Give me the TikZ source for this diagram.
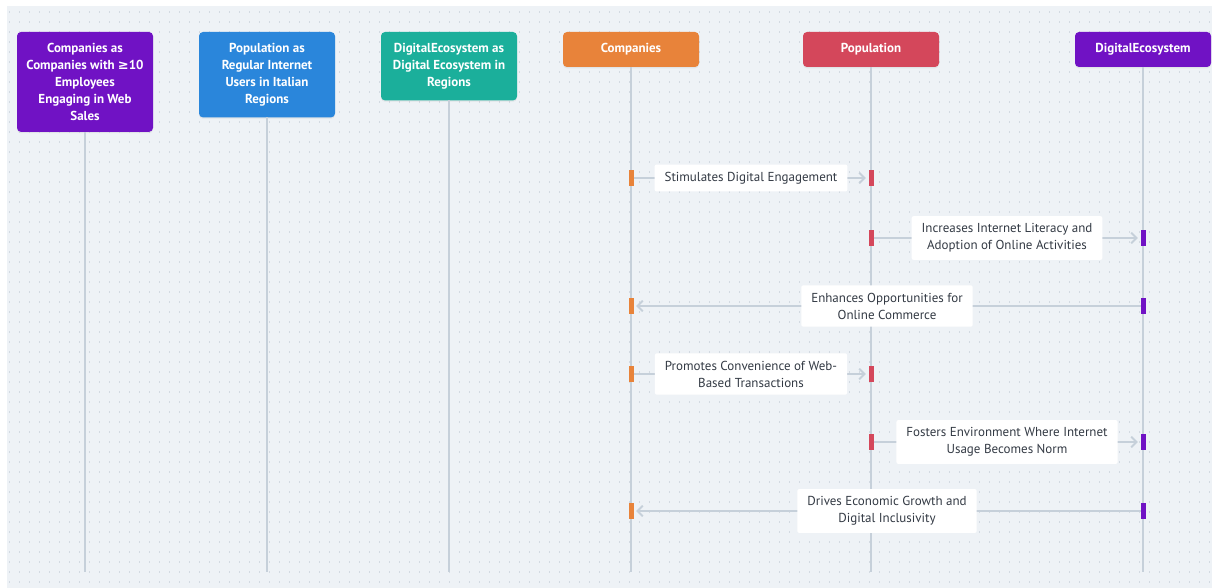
\documentclass[tikz,border=0pt]{standalone}
\usepackage{fontspec}
\setmainfont{PT Sans}
\newfontfamily\symfont{DejaVu Sans}
\usetikzlibrary{positioning,arrows.meta,shadows}

\definecolor{bgcol}{HTML}{EEF2F6}
\definecolor{dotcol}{HTML}{D3DAE2}
\definecolor{linecol}{HTML}{C6D0DA}
\definecolor{purp}{HTML}{7012C4}
\definecolor{blu}{HTML}{2A86DB}
\definecolor{teal}{HTML}{1BAF9B}
\definecolor{cmpcol}{HTML}{E8833A}
\definecolor{popcol}{HTML}{D4475B}
\definecolor{ecocol}{HTML}{7012C4}
\definecolor{txtcol}{HTML}{333A44}

\tikzset{
  head/.style={rounded corners=3pt, minimum width=102pt, minimum height=26.25pt,
    inner xsep=4pt, inner ysep=8.4pt, outer sep=0pt, align=center, text=white,
    font=\bfseries\fontsize{9.75}{12.75}\selectfont,
    drop shadow={opacity=0.12, shadow xshift=0pt, shadow yshift=-1pt}},
  life/.style={draw=linecol, line width=1.8pt},
  act/.style={fill=#1, minimum width=3.75pt, minimum height=12pt, inner sep=0pt, outer sep=0pt},
  msg/.style={draw=linecol, line width=1.6pt, shorten >=2pt,
    -{Straight Barb[length=4pt, width=8pt, line width=1.4pt]}},
  lbl/.style={fill=white, rounded corners=1.5pt, inner xsep=7.5pt, inner ysep=5.6pt,
    align=center, text=txtcol, font=\fontsize{9.75}{12.75}\selectfont}
}

\begin{document}
\begin{tikzpicture}[x=0.75pt, y=-0.75pt]
  \useasboundingbox (0,0) rectangle (1212,588);
  \fill[bgcol] (7,6) rectangle (1212,588);
  % dot grid
  \foreach \y in {12,22,...,582}
    \draw[dotcol, line width=1.1pt, dash pattern=on 1.1pt off 6.4pt] (9,\y) -- (1212,\y);

  % participants
  \node[head, fill=purp, anchor=north west] (cmpA) at (17,32)
    {Companies as\\Companies with {\symfont ≥}10\\Employees\\Engaging in Web\\Sales};
  \node[head, fill=blu, right=34.5pt of cmpA.north east, anchor=north west] (popA)
    {Population as\\Regular Internet\\Users in Italian\\Regions};
  \node[head, fill=teal, right=34.5pt of popA.north east, anchor=north west] (ecoA)
    {DigitalEcosystem as\\Digital Ecosystem in\\Regions};
  \node[head, fill=cmpcol, right=34.5pt of ecoA.north east, anchor=north west] (cmp) {Companies};
  \node[head, fill=popcol, right=78pt of cmp.north east, anchor=north west] (pop) {Population};
  \node[head, fill=ecocol, right=102pt of pop.north east, anchor=north west] (eco) {DigitalEcosystem};

  % lifelines
  \coordinate (bot) at (0,572);
  \foreach \p in {cmpA,popA,ecoA,cmp,pop,eco}
    \draw[life] (\p.south) -- (\p.south |- bot);

  % messages
  \foreach \n/\y/\a/\b/\ca/\cb/\txt in {
    1/178/cmp/pop/cmpcol/popcol/{Stimulates Digital Engagement},
    2/238/pop/eco/popcol/ecocol/{Increases Internet Literacy and\\Adoption of Online Activities},
    3/306/eco/cmp/ecocol/cmpcol/{Enhances Opportunities for\\Online Commerce},
    4/374/cmp/pop/cmpcol/popcol/{Promotes Convenience of Web-\\Based Transactions},
    5/442/pop/eco/popcol/ecocol/{Fosters Environment Where Internet\\Usage Becomes Norm},
    6/511/eco/cmp/ecocol/cmpcol/{Drives Economic Growth and\\Digital Inclusivity}}
  {
    \node[act=\ca] (m\n-a) at (\a |- 0,\y) {};
    \node[act=\cb] (m\n-b) at (\b |- 0,\y) {};
    \draw[msg] (m\n-a) -- node[lbl] (l\n) {\txt} (m\n-b);
  }
\end{tikzpicture}
\end{document}
